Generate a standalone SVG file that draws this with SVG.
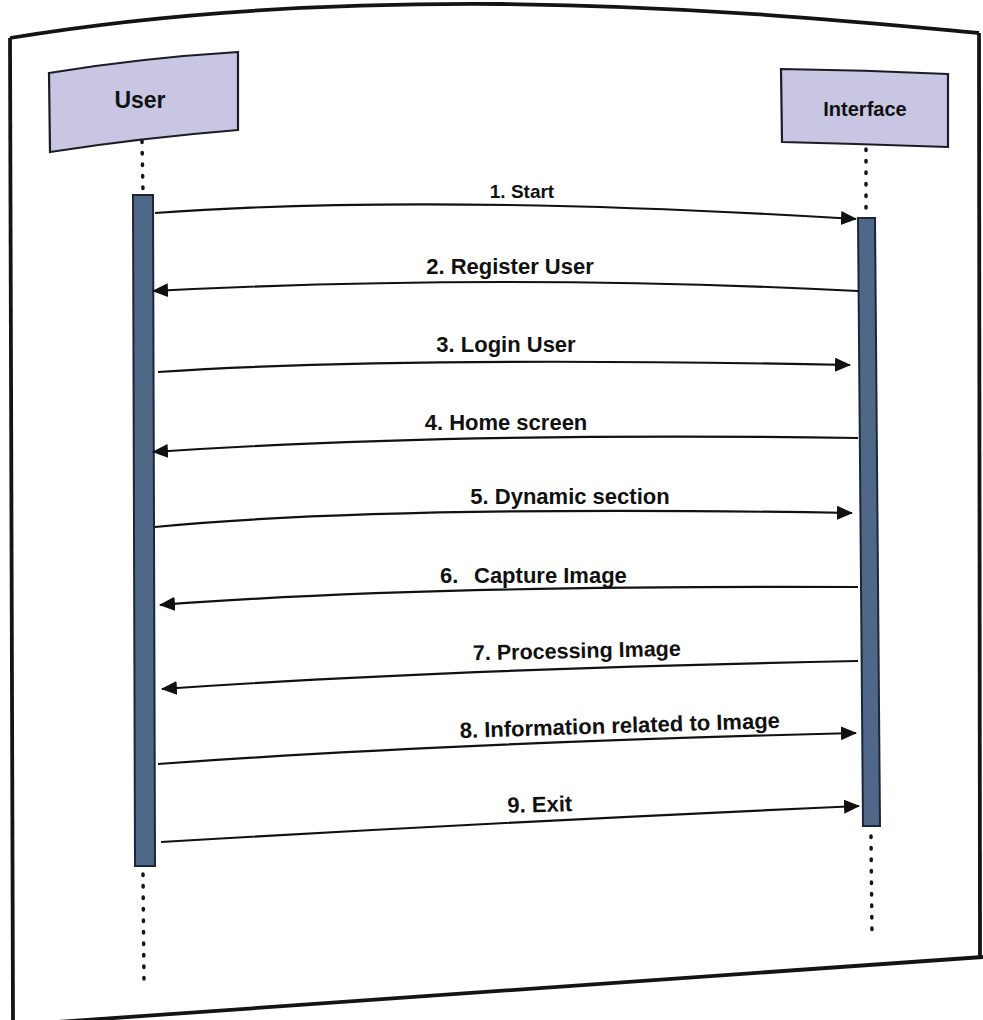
<svg xmlns="http://www.w3.org/2000/svg" width="983" height="1020" viewBox="0 0 983 1020">
  <style>
    .frame { fill: none; stroke: #141414; stroke-width: 3.8; }
    .actor { fill: #c8c6e2; stroke: #1c1c24; stroke-width: 2.2; }
    .actor-label { font-family: "Liberation Sans", Arial, sans-serif; font-weight: bold; fill: #111; text-anchor: middle; }
    .lifeline { fill: none; stroke: #161616; stroke-width: 3.5; stroke-linecap: round; stroke-dasharray: 1.5 10; }
    .activation { fill: #4f6887; stroke: #1d2638; stroke-width: 2; }
    .msg { fill: none; stroke: #111; stroke-width: 2.2; }
    .msg-label { font-family: "Liberation Sans", Arial, sans-serif; font-weight: bold; font-size: 22px; fill: #111; }
  </style>
  <defs>
    <marker id="arrow" markerUnits="userSpaceOnUse" markerWidth="18" markerHeight="16" refX="15" refY="7" orient="auto">
      <path d="M0,0 L16,7 L0,14 z" fill="#111"/>
    </marker>
  </defs>

  <rect width="983" height="1020" fill="#ffffff"/>

  <!-- page frame -->
  <g id="frame">
    <path class="frame" d="M10,38 C 180,10 360,3 500,4 C 700,6 860,22 979,33"/>
    <path class="frame" d="M10,38 L13,1022"/>
    <path class="frame" d="M979,33 L980,958"/>
    <path class="frame" d="M0,1026 Q 500,990 983,957"/>
  </g>

  <!-- participant: User -->
  <g id="user">
    <path class="actor" d="M49,73 Q 140,58 238,52 L238,130 Q 140,138 50,152 Z"/>
    <text class="actor-label" x="140" y="108" font-size="23">User</text>
    <path class="lifeline" d="M142,141 L143,193"/>
    <path class="activation" d="M133,195 L153,195 L155,866 L135,866 Z"/>
    <path class="lifeline" d="M143,874 L144,982"/>
  </g>

  <!-- participant: Interface -->
  <g id="interface">
    <path class="actor" d="M781,69 Q 865,70 948,74 L948,147 Q 865,144 782,142 Z"/>
    <text class="actor-label" x="865" y="116" font-size="20">Interface</text>
    <path class="lifeline" d="M866,149 L866,216"/>
    <path class="activation" d="M858,218 L875,218 L880,826 L863,826 Z"/>
    <path class="lifeline" d="M871,836 L872,936"/>
  </g>

  <!-- messages -->
  <g id="messages">
    <path class="msg" marker-end="url(#arrow)" d="M155,213 Q 430,193 856,219"/>
    <path class="msg" marker-end="url(#arrow)" d="M858,291 Q 505,273 153,291"/>
    <path class="msg" marker-end="url(#arrow)" d="M158,372 Q 400,356 850,365"/>
    <path class="msg" marker-end="url(#arrow)" d="M858,438 Q 450,432 153,452"/>
    <path class="msg" marker-end="url(#arrow)" d="M155,527 Q 380,505 852,513"/>
    <path class="msg" marker-end="url(#arrow)" d="M858,587 Q 420,585 160,605"/>
    <path class="msg" marker-end="url(#arrow)" d="M858,661 Q 450,669 162,689"/>
    <path class="msg" marker-end="url(#arrow)" d="M158,764 Q 450,743 856,733"/>
    <path class="msg" marker-end="url(#arrow)" d="M161,842 Q 500,822 859,806"/>
  </g>

  <!-- message labels -->
  <g id="labels">
    <text class="msg-label" x="522" y="198" text-anchor="middle" style="font-size:19px">1. Start</text>
    <text class="msg-label" x="510" y="274" text-anchor="middle">2. Register User</text>
    <text class="msg-label" x="506" y="352" text-anchor="middle">3. Login User</text>
    <text class="msg-label" x="506" y="430" text-anchor="middle">4. Home screen</text>
    <text class="msg-label" x="570" y="504" text-anchor="middle">5. Dynamic section</text>
    <text class="msg-label" y="583"><tspan x="440">6.</tspan><tspan x="474">Capture Image</tspan></text>
    <text class="msg-label" x="577" y="658" text-anchor="middle" style="font-size:21.5px" transform="rotate(-1.3 577 658)">7. Processing Image</text>
    <text class="msg-label" x="620" y="733" text-anchor="middle" transform="rotate(-1.8 620 733)">8. Information related to Image</text>
    <text class="msg-label" x="540" y="812" text-anchor="middle" transform="rotate(-1.5 540 812)">9. Exit</text>
  </g>
</svg>
